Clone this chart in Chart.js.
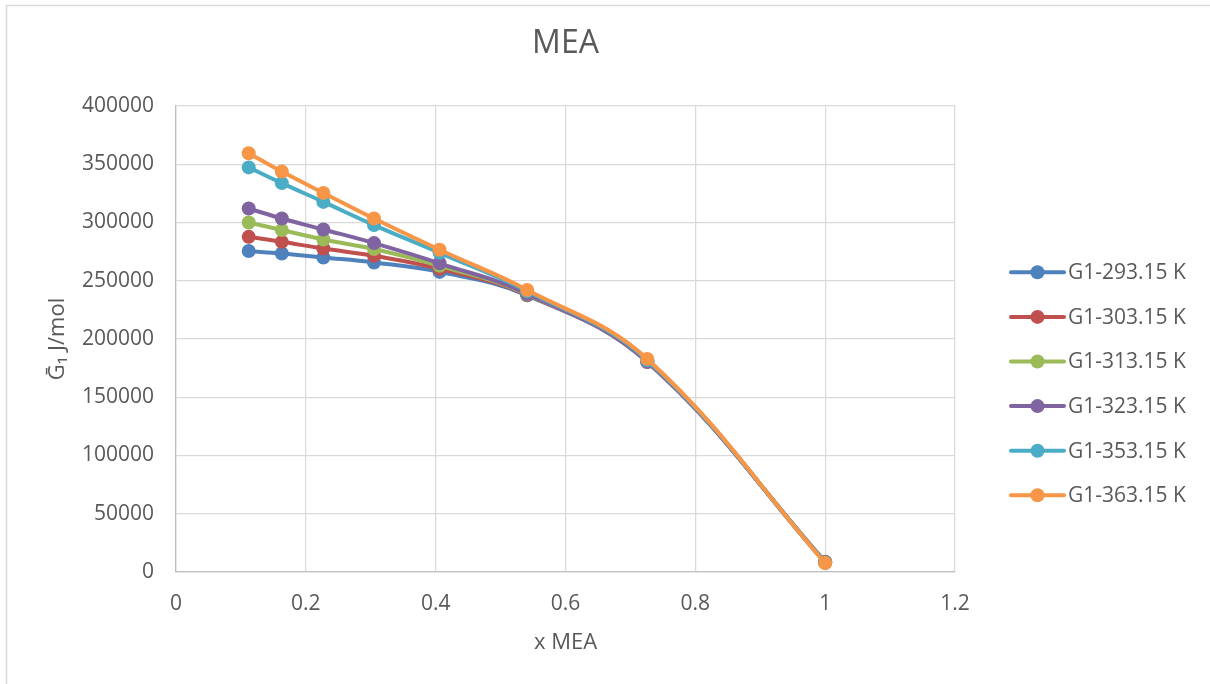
<!DOCTYPE html>
<html>
<head>
<meta charset="utf-8">
<script src="https://cdn.jsdelivr.net/npm/chart.js@4.4.1/dist/chart.umd.min.js"></script>
<style>
  html, body { margin: 0; padding: 0; background: #ffffff; }
  #wrap { position: relative; width: 1210px; height: 684px; }
</style>
</head>
<body>
<div id="wrap"><canvas id="c" width="1210" height="684"></canvas></div>
<script>
// ---- data ----
const xMEA = [0.112, 0.163, 0.227, 0.305, 0.406, 0.541, 0.726, 1.0];
const seriesNames = ["G1-293.15 K", "G1-303.15 K", "G1-313.15 K", "G1-323.15 K", "G1-353.15 K", "G1-363.15 K"];
const g293 = [275500, 273400, 270000, 265700, 257600, 237500, 180300, 8800];
const g303 = [287700, 283400, 277700, 271400, 260200, 238000, 180500, 8600];
const g313 = [300000, 293500, 285400, 277200, 262800, 238500, 180800, 8400];
const g323 = [312000, 303400, 294000, 282300, 265000, 238900, 180600, 8200];
const g353 = [347300, 333800, 317700, 297800, 274000, 241000, 181800, 7900];
const g363 = [359500, 343700, 325400, 303400, 276600, 242100, 182900, 7700];
const seriesValues = [g293, g303, g313, g323, g353, g363];
const seriesColors = ["#4F81BD", "#C0504D", "#9BBB59", "#8064A2", "#4BACC6", "#F79646"];
const chartTitle = "MEA";
const xTitle = "x MEA";
const yTitle = "Ḡ₁ J/mol";

const FONT = "'Open Sans', 'Noto Sans', 'DejaVu Sans', sans-serif";
const TXT = "#595959";

const datasets = seriesValues.map((vals, i) => ({
  label: seriesNames[i],
  data: xMEA.map((x, j) => ({ x: x, y: vals[j] })),
  borderColor: seriesColors[i],
  backgroundColor: seriesColors[i],
  pointBackgroundColor: seriesColors[i],
  pointBorderColor: seriesColors[i],
  borderWidth: 4,
  pointRadius: 7,
  pointBorderWidth: 0,
  pointHoverRadius: 7,
  tension: 0.4,
  fill: false,
  order: seriesValues.length - i
}));

const frame = {
  id: 'frame',
  beforeDraw(chart) {
    const ctx = chart.ctx;
    ctx.save();
    ctx.fillStyle = '#ffffff';
    ctx.fillRect(0, 0, chart.width, chart.height);
    ctx.strokeStyle = '#d9d9d9';
    ctx.lineWidth = 1.5;
    ctx.strokeRect(6.5, 5.5, 1400, 900);
    ctx.restore();
  }
};

const sideLegend = {
  id: 'sideLegend',
  afterDraw(chart) {
    const ctx = chart.ctx;
    ctx.save();
    const y0 = 272.3, step = 44.6;
    chart.data.datasets.forEach((ds, i) => {
      const y = y0 + i * step;
      ctx.strokeStyle = ds.borderColor;
      ctx.lineWidth = 4;
      ctx.lineCap = 'round';
      ctx.beginPath();
      ctx.moveTo(1011, y);
      ctx.lineTo(1064, y);
      ctx.stroke();
      ctx.fillStyle = ds.borderColor;
      ctx.beginPath();
      ctx.arc(1037.5, y, 7, 0, Math.PI * 2);
      ctx.fill();
      ctx.fillStyle = TXT;
      ctx.font = "21px " + FONT;
      ctx.textBaseline = 'middle';
      ctx.textAlign = 'left';
      ctx.fillText(ds.label, 1068, y + 1);
    });
    ctx.restore();
  }
};

const fmtX = v => String(Math.round(v * 10) / 10);

new Chart(document.getElementById('c'), {
  type: 'line',
  data: { datasets: datasets },
  plugins: [frame, sideLegend],
  options: {
    responsive: false,
    animation: false,
    devicePixelRatio: 1,
    layout: { padding: { left: 45, right: 255, top: 0, bottom: 0 } },
    plugins: {
      legend: { display: false },
      tooltip: { enabled: false },
      title: {
        display: true,
        text: chartTitle,
        fullSize: false,
        color: TXT,
        font: { family: FONT, size: 32, weight: 'normal', lineHeight: 1.2 },
        padding: { top: 25, bottom: 42.6 }
      }
    },
    scales: {
      x: {
        type: 'linear',
        min: 0,
        max: 1.2,
        ticks: {
          stepSize: 0.2,
          color: TXT,
          font: { family: FONT, size: 21 },
          padding: 19,
          callback: v => fmtX(v),
          maxRotation: 0
        },
        grid: { color: '#d9d9d9', lineWidth: 1.25, drawTicks: false },
        border: { color: '#bfbfbf', width: 1.25 },
        title: {
          display: true,
          text: xTitle,
          color: TXT,
          font: { family: FONT, size: 22, lineHeight: 1.2 },
          padding: { top: 0, bottom: 28 }
        },
        afterFit(scale) { scale.height = 112; }
      },
      y: {
        type: 'linear',
        min: 0,
        max: 400000,
        ticks: {
          stepSize: 50000,
          color: TXT,
          font: { family: FONT, size: 21 },
          padding: 22,
          callback: v => String(v)
        },
        grid: { color: '#d9d9d9', lineWidth: 1.25, drawTicks: false },
        border: { color: '#bfbfbf', width: 1.25 },
        title: {
          display: true,
          text: yTitle,
          color: TXT,
          font: { family: FONT, size: 22, lineHeight: 1.2 },
          padding: { top: 0, bottom: 0 }
        },
        afterFit(scale) { scale.width = 131; }
      }
    }
  }
});
</script>
</body>
</html>
